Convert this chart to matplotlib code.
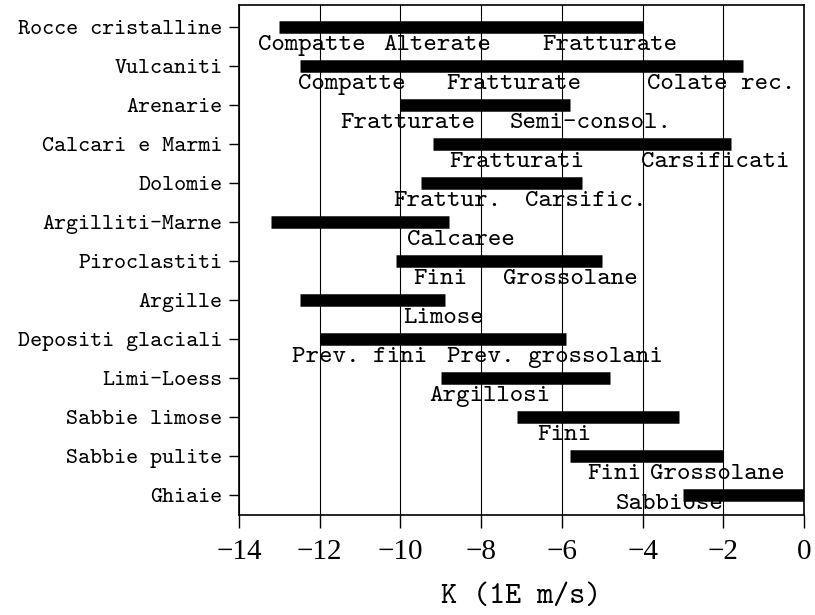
import matplotlib
matplotlib.use("Agg")
import matplotlib.pyplot as plt

# rock types, top to bottom
rocks = ["Rocce cristalline", "Vulcaniti", "Arenarie", "Calcari e Marmi",
         "Dolomie", "Argilliti-Marne", "Piroclastiti", "Argille",
         "Depositi glaciali", "Limi-Loess", "Sabbie limose",
         "Sabbie pulite", "Ghiaie"]
# log10 K range (m/s)
k_min = [-13.0, -12.5, -10.0, -9.2, -9.5, -13.2, -10.1, -12.5, -12.0, -9.0, -7.1, -5.8, -3.0]
k_max = [-4.0, -1.5, -5.8, -1.8, -5.5, -8.8, -5.0, -8.9, -5.9, -4.8, -3.1, -2.0, 0.0]

# sub-type notes: (row, left x in log K, text)
notes = [
    (0, -13.53, "Compatte"), (0, -10.43, "Alterate"), (0, -6.49, "Fratturate"),
    (1, -12.54, "Compatte"), (1, -8.87, "Fratturate"), (1, -3.89, "Colate rec."),
    (2, -11.5, "Fratturate"), (2, -7.29, "Semi-consol."),
    (3, -8.8, "Fratturati"), (3, -4.04, "Carsificati"),
    (4, -10.18, "Frattur."), (4, -6.91, "Carsific."),
    (5, -9.83, "Calcaree"),
    (6, -9.69, "Fini"), (6, -7.46, "Grossolane"),
    (7, -9.94, "Limose"),
    (8, -12.69, "Prev. fini"), (8, -8.85, "Prev. grossolani"),
    (9, -9.29, "Argillosi"),
    (10, -6.62, "Fini"),
    (11, -5.38, "Fini"), (11, -3.82, "Grossolane"),
    (12, -4.66, "Sabbiose"),
]

mono = ["cmtt10", "DejaVu Serif"]
plt.rcParams["font.family"] = mono
plt.rcParams["axes.unicode_minus"] = True

fig = plt.figure(figsize=(8.15, 6.15), dpi=100)
ax = fig.add_axes([0.2933, 0.1626, 0.6932, 0.8293])

rows = range(len(rocks))
ax.hlines(rows, k_min, k_max, color="black", linewidth=9, zorder=3)

for row, x, txt in notes:
    dy = 0.22 if row == len(rocks) - 1 else 0.47
    ax.text(x, row + dy, txt, fontsize=18.5, va="center", ha="left", zorder=4)

ax.set_xlim(-14, 0)
ax.set_ylim(12.5, -0.56)
ax.set_xticks(range(-14, 1, 2))
ax.set_xticklabels(["\u2212%d" % -v if v < 0 else "%d" % v for v in range(-14, 1, 2)],
                   family="Liberation Serif", fontsize=21)
ax.set_yticks(list(rows))
ax.set_yticklabels(rocks, fontsize=16.5)
ax.tick_params(axis="x", length=9, width=1, direction="out", pad=8)
ax.tick_params(axis="y", length=7, width=1, direction="out", pad=5)
ax.grid(axis="x", color="black", linewidth=0.8)
ax.set_axisbelow(True)
for s in ax.spines.values():
    s.set_linewidth(1.2)
ax.set_xlabel("K (1E m/s)", fontsize=22, labelpad=14)

fig.savefig("out.png", dpi=100)
